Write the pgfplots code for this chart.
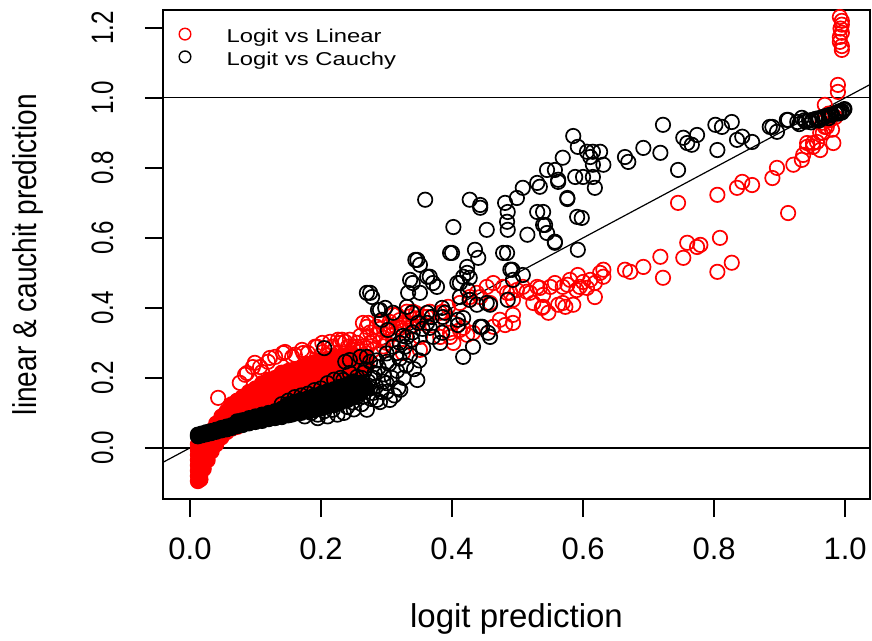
\documentclass[border=0pt]{standalone}
\usepackage{pgfplots}
\pgfplotsset{compat=1.18}
\usepackage{fontspec}
\setmainfont{Liberation Sans}
\newcommand{\tickfont}{\fontsize{15.5}{18}\selectfont}
\newcommand{\labfont}{\fontsize{16.5}{19}\selectfont}
\newcommand{\legfont}{\fontsize{9.3}{11}\selectfont}
\begin{document}
\begin{tikzpicture}
\begin{axis}[
  scale only axis,
  width=353.5pt, height=244.5pt,
  xmin=-0.0412, xmax=1.038, ymin=-0.146, ymax=1.251,
  axis line style={line width=0.7pt},
  tick pos=left, tick align=outside,
  major tick length=9pt,
  tick style={line width=0.7pt, black},
  xtick={0,0.2,0.4,0.6,0.8,1.0},
  ytick={0,0.2,0.4,0.6,0.8,1.0,1.2},
  xticklabel={\pgfmathprintnumber[fixed,fixed zerofill,precision=1,assume math mode=true]{\tick}},
  yticklabel={\scalebox{0.78}[1]{\pgfmathprintnumber[fixed,fixed zerofill,precision=1,assume math mode=true]{\tick}}},
  xticklabel style={font=\tickfont, anchor=north, inner sep=0pt},
  xticklabel shift=10pt,
  yticklabel style={font=\tickfont, rotate=90, anchor=base, inner sep=0pt},
  yticklabel shift=16pt,
  xlabel={logit prediction},
  ylabel={\scalebox{0.85}[1]{linear \& cauchit prediction}},
  every axis x label/.style={at={(axis description cs:0.5,-0.262)}, anchor=base, font=\labfont},
  every axis y label/.style={at={(axis description cs:-0.1796,0.5)}, rotate=90, anchor=base, font=\labfont},
  legend style={at={(axis description cs:0,1)}, anchor=north west, draw=none, fill=none,
    inner sep=0pt, outer sep=0pt, xshift=31.85pt, yshift=-9.15pt, row sep=2.35pt, column sep=0pt,
    font=\legfont, nodes={inner sep=0pt, text height=7pt, text depth=2pt}},
  legend cell align=left,
  legend image code/.code={\draw[#1, overlay, mark size=2.9pt, line width=0.7pt] plot coordinates {(-20.85pt,1.6pt)};},
]
% Logit vs Linear: scattered points
\addplot[only marks, mark=o, red, mark size=3.6pt, line width=0.85pt] coordinates {
(0.043,0.143)(0.076,0.186)(0.084,0.209)(0.087,0.214)(0.096,0.231)(0.099,0.243)(0.107,0.231)(0.110,0.217)
(0.119,0.246)(0.122,0.257)(0.130,0.260)(0.142,0.271)(0.145,0.274)(0.156,0.260)(0.160,0.266)(0.171,0.280)
(0.173,0.271)(0.180,0.271)(0.191,0.289)(0.194,0.289)(0.202,0.300)(0.203,0.274)(0.214,0.303)(0.217,0.289)
(0.226,0.309)(0.232,0.309)(0.237,0.303)(0.241,0.289)
(0.229,0.300)(0.244,0.309)(0.255,0.289)(0.264,0.357)(0.270,0.346)(0.272,0.357)(0.275,0.300)(0.285,0.346)
(0.290,0.360)(0.290,0.271)(0.305,0.360)(0.310,0.380)(0.310,0.309)(0.316,0.380)(0.321,0.343)(0.325,0.351)
(0.325,0.271)(0.331,0.389)(0.336,0.346)(0.340,0.389)(0.345,0.370)(0.351,0.317)(0.351,0.280)(0.362,0.374)
(0.366,0.389)(0.370,0.350)(0.382,0.386)(0.382,0.317)(0.386,0.389)(0.394,0.403)(0.397,0.317)(0.397,0.329)
(0.402,0.357)(0.402,0.300)(0.412,0.337)(0.412,0.414)(0.417,0.343)(0.423,0.323)(0.427,0.423)(0.427,0.431)
(0.432,0.329)(0.438,0.443)(0.443,0.431)(0.453,0.460)(0.458,0.414)(0.463,0.346)(0.463,0.471)(0.473,0.366)
(0.478,0.460)(0.481,0.351)(0.484,0.443)(0.489,0.443)(0.493,0.423)(0.493,0.380)(0.493,0.357)(0.499,0.451)
(0.508,0.460)(0.514,0.446)(0.519,0.443)(0.524,0.414)(0.530,0.460)(0.534,0.457)(0.537,0.400)(0.539,0.437)
(0.539,0.403)(0.547,0.386)(0.550,0.460)(0.557,0.471)(0.562,0.409)(0.569,0.460)(0.569,0.414)(0.573,0.403)
(0.576,0.466)(0.580,0.480)(0.585,0.409)(0.590,0.451)(0.592,0.494)(0.595,0.460)(0.600,0.474)(0.606,0.457)
(0.611,0.480)(0.618,0.431)(0.618,0.471)(0.626,0.500)(0.631,0.509)(0.631,0.489)(0.664,0.509)(0.672,0.503)
(0.692,0.517)(0.718,0.546)(0.722,0.486)(0.753,0.543)(0.759,0.586)(0.774,0.574)(0.779,0.580)(0.745,0.700)
(0.805,0.503)(0.805,0.723)(0.809,0.600)(0.827,0.529)(0.835,0.743)(0.843,0.760)(0.858,0.751)(0.889,0.771)
(0.896,0.800)(0.913,0.671)(0.921,0.809)(0.934,0.823)(0.936,0.837)(0.942,0.860)(0.942,0.871)(0.951,0.860)
(0.951,0.871)(0.957,0.874)(0.962,0.851)(0.962,0.900)(0.966,0.900)(0.969,0.917)(0.972,0.917)(0.965,0.929)
(0.977,0.937)(0.980,0.909)(0.982,0.871)(0.969,0.980)(0.975,0.955)(0.985,0.945)(0.989,1.017)(0.989,1.037)
(0.992,1.231)(0.995,1.220)(0.995,1.209)(0.993,1.198)(0.995,1.186)(0.992,1.174)(0.992,1.160)(0.995,1.148)
(0.995,1.137)
(0.255,0.300)(0.260,0.320)(0.265,0.290)(0.270,0.315)(0.275,0.330)(0.280,0.305)(0.285,0.325)(0.290,0.340)
(0.295,0.315)(0.300,0.335)(0.305,0.350)(0.310,0.325)(0.315,0.345)(0.320,0.365)(0.325,0.335)(0.330,0.360)
(0.335,0.375)(0.340,0.350)(0.345,0.385)(0.350,0.360)(0.355,0.375)(0.260,0.275)(0.270,0.285)(0.280,0.280)
(0.295,0.290)(0.250,0.280)(0.245,0.270)(0.300,0.300)
};
\addlegendentry{\scalebox{1.28}[1]{Logit vs Linear}}
% Logit vs Linear: dense core
\addplot[forget plot, only marks, mark=*, red, fill=red, mark size=3.6pt, line width=0.85pt] coordinates {
(0.012,-0.095)(0.012,-0.080)(0.012,-0.065)(0.012,-0.050)(0.012,-0.035)(0.012,-0.020)(0.012,-0.005)(0.012,0.010)
(0.016,-0.090)(0.016,-0.075)(0.016,-0.060)(0.016,-0.045)(0.016,-0.030)(0.016,-0.015)(0.016,0.000)(0.016,0.015)
(0.021,-0.060)(0.021,-0.045)(0.021,-0.030)(0.021,-0.015)(0.021,0.000)(0.021,0.015)(0.021,0.030)
(0.027,-0.035)(0.027,-0.020)(0.027,-0.005)(0.027,0.010)(0.027,0.025)(0.027,0.040)
(0.033,-0.010)(0.033,0.005)(0.033,0.020)(0.033,0.035)(0.033,0.050)
(0.040,0.010)(0.040,0.025)(0.040,0.040)(0.040,0.055)(0.040,0.070)
(0.048,0.030)(0.048,0.045)(0.048,0.060)(0.048,0.075)(0.048,0.090)
(0.056,0.045)(0.056,0.060)(0.056,0.075)(0.056,0.090)(0.056,0.105)
(0.064,0.055)(0.064,0.070)(0.064,0.085)(0.064,0.100)(0.064,0.115)(0.064,0.125)
(0.072,0.060)(0.072,0.075)(0.072,0.090)(0.072,0.105)(0.072,0.120)(0.072,0.135)
(0.080,0.070)(0.080,0.085)(0.080,0.100)(0.080,0.115)(0.080,0.130)(0.080,0.145)
(0.090,0.075)(0.090,0.090)(0.090,0.105)(0.090,0.120)(0.090,0.135)(0.090,0.150)(0.090,0.160)
(0.100,0.080)(0.100,0.095)(0.100,0.110)(0.100,0.125)(0.100,0.140)(0.100,0.155)(0.100,0.170)
(0.110,0.085)(0.110,0.100)(0.110,0.115)(0.110,0.130)(0.110,0.145)(0.110,0.160)(0.110,0.175)(0.110,0.185)
(0.120,0.090)(0.120,0.105)(0.120,0.120)(0.120,0.135)(0.120,0.150)(0.120,0.165)(0.120,0.180)(0.120,0.195)
(0.130,0.095)(0.130,0.110)(0.130,0.125)(0.130,0.140)(0.130,0.155)(0.130,0.170)(0.130,0.185)(0.130,0.200)
(0.140,0.100)(0.140,0.115)(0.140,0.130)(0.140,0.145)(0.140,0.160)(0.140,0.175)(0.140,0.190)(0.140,0.205)(0.140,0.215)
(0.150,0.105)(0.150,0.120)(0.150,0.135)(0.150,0.150)(0.150,0.165)(0.150,0.180)(0.150,0.195)(0.150,0.210)(0.150,0.220)
(0.160,0.110)(0.160,0.130)(0.160,0.150)(0.160,0.170)(0.160,0.190)(0.160,0.210)(0.160,0.225)
(0.170,0.115)(0.170,0.135)(0.170,0.155)(0.170,0.175)(0.170,0.195)(0.170,0.215)(0.170,0.230)
(0.180,0.120)(0.180,0.140)(0.180,0.160)(0.180,0.180)(0.180,0.200)(0.180,0.220)(0.180,0.240)
(0.190,0.125)(0.190,0.145)(0.190,0.165)(0.190,0.185)(0.190,0.205)(0.190,0.225)(0.190,0.245)
(0.200,0.130)(0.200,0.150)(0.200,0.170)(0.200,0.190)(0.200,0.210)(0.200,0.230)(0.200,0.250)
(0.210,0.140)(0.210,0.160)(0.210,0.180)(0.210,0.200)(0.210,0.220)(0.210,0.240)(0.210,0.255)
(0.220,0.145)(0.220,0.165)(0.220,0.185)(0.220,0.205)(0.220,0.225)(0.220,0.245)(0.220,0.260)
(0.230,0.150)(0.230,0.170)(0.230,0.190)(0.230,0.210)(0.230,0.230)(0.230,0.250)(0.230,0.262)
(0.240,0.160)(0.240,0.180)(0.240,0.200)(0.240,0.220)(0.240,0.240)(0.240,0.260)
(0.250,0.170)(0.250,0.190)(0.250,0.210)(0.250,0.230)(0.250,0.250)(0.250,0.265)
(0.260,0.215)(0.260,0.235)(0.260,0.255)(0.270,0.235)(0.270,0.255)
};
% Logit vs Cauchy: dense core
\addplot[forget plot, only marks, mark=*, black, fill=black, mark size=3.6pt, line width=0.85pt] coordinates {
(0.012,0.033)(0.012,0.038)(0.018,0.036)(0.018,0.041)(0.025,0.039)(0.025,0.045)(0.032,0.042)(0.032,0.048)
(0.040,0.046)(0.040,0.052)(0.048,0.050)(0.048,0.057)(0.056,0.053)(0.056,0.061)(0.064,0.057)(0.064,0.065)
(0.072,0.062)(0.072,0.070)(0.072,0.076)(0.080,0.065)(0.080,0.073)(0.080,0.079)
(0.090,0.070)(0.090,0.078)(0.090,0.085)(0.100,0.074)(0.100,0.082)(0.100,0.090)
(0.110,0.077)(0.110,0.086)(0.110,0.095)(0.120,0.082)(0.120,0.091)(0.120,0.100)
(0.130,0.085)(0.130,0.095)(0.130,0.105)(0.140,0.088)(0.140,0.100)(0.140,0.112)
(0.150,0.093)(0.150,0.105)(0.150,0.117)(0.150,0.125)(0.160,0.098)(0.160,0.110)(0.160,0.122)(0.160,0.132)
(0.170,0.100)(0.170,0.113)(0.170,0.126)(0.170,0.138)(0.180,0.104)(0.180,0.118)(0.180,0.132)(0.180,0.142)
(0.190,0.108)(0.190,0.122)(0.190,0.136)(0.190,0.150)(0.200,0.112)(0.200,0.127)(0.200,0.142)(0.200,0.155)
(0.210,0.118)(0.210,0.133)(0.210,0.148)(0.210,0.162)(0.220,0.122)(0.220,0.138)(0.220,0.154)(0.220,0.168)
(0.230,0.130)(0.230,0.145)(0.230,0.160)(0.230,0.175)(0.240,0.136)(0.240,0.152)(0.240,0.168)(0.240,0.182)
(0.250,0.145)(0.250,0.160)(0.250,0.175)(0.250,0.190)
(0.260,0.155)(0.260,0.170)(0.260,0.185)(0.270,0.170)
};
% Logit vs Cauchy: scattered points
\addplot[only marks, mark=o, black, mark size=3.6pt, line width=0.85pt] coordinates {
(0.140,0.125)(0.150,0.135)(0.155,0.095)(0.160,0.145)(0.165,0.100)(0.170,0.150)(0.175,0.090)(0.180,0.155)
(0.185,0.100)(0.190,0.165)(0.195,0.095)(0.200,0.170)(0.205,0.105)(0.210,0.185)(0.215,0.137)(0.218,0.109)
(0.220,0.195)(0.224,0.137)(0.230,0.200)(0.234,0.194)(0.240,0.117)(0.244,0.214)(0.244,0.146)(0.248,0.130)
(0.255,0.146)(0.255,0.203)(0.260,0.186)(0.264,0.146)(0.270,0.109)(0.275,0.170)(0.279,0.157)(0.282,0.214)
(0.285,0.137)(0.290,0.131)(0.295,0.189)(0.300,0.160)(0.305,0.137)(0.318,0.171)(0.321,0.166)(0.347,0.194)
(0.237,0.246)(0.244,0.251)(0.205,0.285)
(0.252,0.175)(0.258,0.160)(0.262,0.200)(0.266,0.180)(0.268,0.225)(0.272,0.190)(0.276,0.140)(0.280,0.200)
(0.284,0.175)(0.288,0.230)(0.292,0.160)(0.296,0.210)(0.300,0.185)(0.304,0.240)(0.308,0.200)(0.312,0.150)
(0.316,0.220)(0.320,0.255)(0.326,0.200)(0.330,0.235)(0.336,0.265)(0.342,0.225)(0.350,0.250)(0.356,0.285)
(0.262,0.125)(0.250,0.110)(0.235,0.100)(0.225,0.095)(0.210,0.090)(0.195,0.085)(0.265,0.215)(0.285,0.250)
(0.300,0.270)(0.320,0.300)(0.340,0.330)(0.355,0.340)(0.325,0.320)
(0.260,0.260)(0.270,0.260)(0.275,0.246)(0.301,0.246)(0.316,0.271)(0.310,0.289)(0.331,0.317)(0.328,0.289)
(0.339,0.309)(0.348,0.357)(0.362,0.357)(0.366,0.343)(0.371,0.317)(0.382,0.300)(0.385,0.329)(0.386,0.374)
(0.409,0.351)(0.409,0.366)(0.417,0.260)(0.417,0.371)(0.432,0.289)(0.446,0.346)(0.455,0.329)(0.458,0.317)
(0.443,0.346)(0.293,0.366)(0.302,0.337)(0.287,0.394)(0.290,0.394)(0.298,0.400)(0.310,0.386)(0.331,0.403)
(0.339,0.386)(0.362,0.386)(0.369,0.374)(0.385,0.400)(0.389,0.386)(0.438,0.409)(0.427,0.423)(0.458,0.409)
(0.453,0.414)(0.485,0.423)(0.412,0.431)(0.270,0.443)(0.275,0.443)(0.278,0.431)(0.333,0.443)(0.351,0.443)
(0.377,0.460)(0.412,0.471)(0.408,0.471)(0.424,0.451)(0.340,0.471)(0.371,0.471)(0.336,0.480)(0.366,0.489)
(0.362,0.489)(0.417,0.489)(0.427,0.486)(0.423,0.500)(0.493,0.480)(0.508,0.494)(0.489,0.509)(0.492,0.509)
(0.423,0.517)(0.351,0.523)(0.344,0.537)(0.347,0.537)(0.440,0.543)(0.400,0.557)(0.397,0.557)(0.435,0.566)
(0.478,0.557)(0.484,0.557)(0.515,0.609)(0.453,0.623)(0.485,0.623)(0.402,0.631)(0.539,0.637)(0.545,0.614)
(0.484,0.646)(0.530,0.674)(0.485,0.674)(0.443,0.686)(0.443,0.694)(0.481,0.700)(0.427,0.709)(0.359,0.709)
(0.499,0.714)(0.508,0.743)(0.530,0.757)(0.562,0.760)(0.576,0.714)(0.557,0.589)(0.591,0.660)(0.592,0.566)
(0.598,0.657)(0.539,0.674)(0.542,0.637)(0.557,0.586)(0.534,0.746)(0.545,0.794)(0.557,0.794)(0.562,0.766)
(0.569,0.829)(0.576,0.711)(0.585,0.891)(0.588,0.774)(0.592,0.860)(0.600,0.774)(0.606,0.846)(0.611,0.831)
(0.615,0.846)(0.615,0.809)(0.615,0.774)(0.618,0.743)(0.626,0.846)(0.631,0.809)(0.664,0.831)(0.669,0.817)
(0.692,0.857)(0.718,0.843)(0.722,0.923)(0.745,0.794)(0.753,0.886)(0.759,0.871)(0.766,0.866)(0.774,0.894)
(0.802,0.923)(0.805,0.851)(0.812,0.917)(0.827,0.931)(0.835,0.880)(0.843,0.889)(0.858,0.874)(0.885,0.917)
(0.889,0.917)(0.896,0.903)(0.911,0.937)(0.913,0.937)(0.927,0.931)(0.934,0.943)
(0.940,0.932)(0.945,0.935)(0.950,0.937)(0.955,0.940)(0.960,0.942)(0.965,0.945)(0.970,0.948)(0.975,0.950)
(0.980,0.953)(0.985,0.956)(0.990,0.960)(0.995,0.963)(0.998,0.966)(0.992,0.962)(0.987,0.958)(0.978,0.950)
(0.968,0.944)(0.958,0.938)(0.948,0.930)(0.938,0.936)(0.930,0.925)(0.960,0.935)(0.975,0.942)(0.990,0.955)
(0.995,0.958)(0.999,0.968)
};
\addlegendentry{\scalebox{1.28}[1]{Logit vs Cauchy}}
% reference lines
\addplot[forget plot, black, line width=0.6pt] coordinates {(-0.1,0)(1.1,0)};
\addplot[forget plot, black, line width=0.6pt] coordinates {(-0.1,1)(1.1,1)};
\addplot[forget plot, black, line width=0.6pt] coordinates {(-0.1,-0.1)(1.1,1.1)};
\end{axis}
\path[use as bounding box] (-81.5pt,-68pt) rectangle (354.5pt,249.5pt);
\end{tikzpicture}
\end{document}
